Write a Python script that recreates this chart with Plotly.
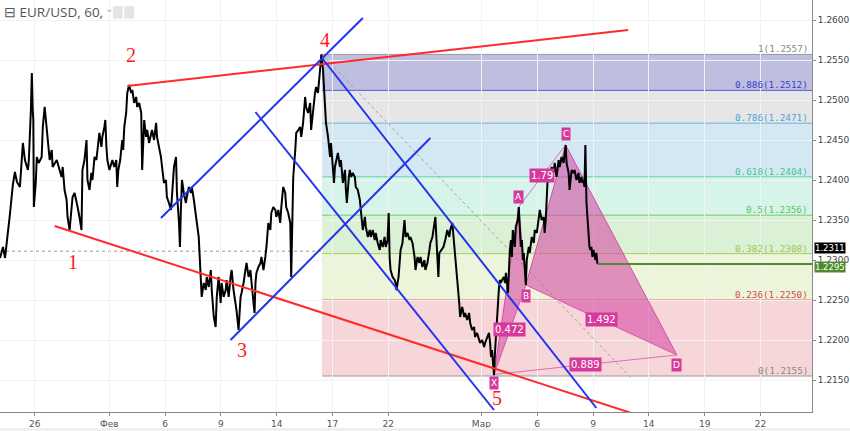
import plotly.graph_objects as go

# ---------------- data ----------------
tick_days = [0, 4, 7, 10, 13, 16, 19, 24, 27, 30, 33, 36, 39]
tick_text = ["26", "Фев", "6", "9", "14", "17", "22", "Мар", "6", "9", "14", "19", "22"]

price_ticks = [1.2150, 1.2200, 1.2250, 1.2300, 1.2350, 1.2400, 1.2450, 1.2500, 1.2550, 1.2600]

t_days = [-1.87, -1.71, -1.60, -1.44, -1.34, -1.18, -1.07, -0.96, -0.80, -0.64, -0.53, -0.37, -0.32, -0.21, -0.16, -0.11, -0.08, -0.05,
          0.05, 0.11, 0.21, 0.37, 0.43, 0.53, 0.64, 0.69, 0.80, 0.91, 0.96, 1.18, 1.34, 1.44, 1.50, 1.60, 1.71, 1.76, 1.87, 1.98,
          2.03, 2.14, 2.24, 2.30, 2.40, 2.51, 2.56, 2.67, 2.78, 2.80, 2.83, 2.94, 3.04, 3.10, 3.21, 3.31, 3.37, 3.47, 3.58, 3.63,
          3.74, 3.79, 3.85, 3.90, 4.01, 4.11, 4.17, 4.27, 4.38, 4.43, 4.49, 4.59, 4.65, 4.70, 4.75, 4.81, 4.91, 4.97, 5.07, 5.18,
          5.24, 5.34, 5.45, 5.50, 5.61, 5.72, 5.77, 5.88, 5.98, 6.04, 6.14, 6.25, 6.30, 6.41, 6.52, 6.57, 6.68, 6.78, 6.84, 6.94,
          7.05, 7.10, 7.21, 7.32, 7.37, 7.48, 7.59, 7.62, 7.64, 7.75, 7.80, 7.85, 7.91, 8.01, 8.12, 8.17, 8.28, 8.39, 8.44, 8.55,
          8.65, 8.71, 8.81, 8.92, 8.97, 9.08, 9.19, 9.24, 9.35, 9.46, 9.51, 9.62, 9.72, 9.78, 9.88, 9.99, 10.04, 10.15, 10.26,
          10.31, 10.42, 10.52, 10.58, 10.68, 10.79, 10.84, 10.95, 11.00, 11.06, 11.11, 11.22, 11.32, 11.38, 11.49, 11.59, 11.65,
          11.75, 11.81, 11.86, 11.91, 12.02, 12.13, 12.18, 12.29, 12.39, 12.45, 12.55, 12.66, 12.71, 12.82, 12.93, 12.98, 13.09,
          13.19, 13.25, 13.35, 13.46, 13.51, 13.62, 13.73, 13.78, 13.84, 13.89, 14.00, 14.05, 14.16, 14.26, 14.32, 14.42, 14.53,
          14.58, 14.69, 14.80, 14.85, 14.96, 15.06, 15.12, 15.22, 15.33, 15.40, 15.49, 15.54, 15.60, 15.65, 15.76, 15.87, 15.92,
          15.95, 16.03, 16.08, 16.13, 16.19, 16.29, 16.40, 16.45, 16.56, 16.67, 16.72, 16.77, 16.88, 16.93, 16.99, 17.09, 17.20,
          17.25, 17.36, 17.47, 17.52, 17.57, 17.63, 17.74, 17.79, 17.90, 18.00, 18.06, 18.16, 18.27, 18.32, 18.43, 18.54, 18.59,
          18.70, 18.80, 18.86, 18.96, 19.02, 19.07, 19.12, 19.23, 19.34, 19.39, 19.44, 19.55, 19.60, 19.66, 19.76, 19.87, 19.93,
          20.03, 20.14, 20.19, 20.30, 20.41, 20.46, 20.57, 20.67, 20.73, 20.83, 20.94, 20.99, 21.10, 21.21, 21.26, 21.37, 21.47,
          21.53, 21.58, 21.63, 21.69, 21.74, 21.85, 21.96, 22.06, 22.17, 22.28, 22.33, 22.44, 22.54, 22.60, 22.70, 22.81, 22.86,
          22.97, 23.08, 23.13, 23.24, 23.34, 23.40, 23.50, 23.61, 23.66, 23.77, 23.88, 23.93, 24.04, 24.15, 24.20, 24.31, 24.41,
          24.47, 24.52, 24.57, 24.63, 24.68, 24.73, 24.79, 24.89, 24.95, 25.00, 25.05, 25.11, 25.21, 25.27, 25.32, 25.43, 25.48,
          25.53, 25.59, 25.64, 25.69, 25.75, 25.80, 25.85, 25.96, 26.01, 26.07, 26.12, 26.18, 26.23, 26.28, 26.34, 26.39, 26.44,
          26.55, 26.60, 26.71, 26.82, 26.87, 26.98, 27.08, 27.14, 27.24, 27.35, 27.40, 27.46, 27.56, 27.62, 27.67, 27.78, 27.88,
          27.94, 28.04, 28.15, 28.21, 28.31, 28.42, 28.53, 28.58, 28.69, 28.74, 28.85, 28.95, 29.01, 29.11, 29.22, 29.27, 29.38,
          29.43, 29.49, 29.54, 29.59, 29.65, 29.70, 29.75, 29.81, 29.86, 29.91, 29.97, 30.02, 30.13, 30.18, 30.24]

close = [1.23025, 1.23163, 1.23025, 1.23413, 1.23563, 1.23938, 1.24100, 1.23975, 1.23913, 1.24463, 1.24250, 1.24125, 1.24250,
         1.24875, 1.25338, 1.24875, 1.24750, 1.23663,
         1.23963, 1.24288, 1.24213, 1.24288, 1.24663, 1.24913, 1.24625, 1.24500, 1.24250, 1.24375, 1.24163, 1.24250, 1.24125,
         1.24038, 1.24163, 1.23875, 1.23750, 1.23538, 1.23375, 1.23713,
         1.23788, 1.23838, 1.23750, 1.23663, 1.23538, 1.23375, 1.24125, 1.24250, 1.24500, 1.24163, 1.24000, 1.23875, 1.24088,
         1.24000, 1.24288, 1.24250, 1.24375, 1.24588, 1.24413, 1.24538,
         1.24663, 1.24750, 1.24413, 1.24250, 1.24125, 1.24213, 1.24250, 1.24163, 1.24250, 1.23913, 1.24125, 1.24250, 1.24413,
         1.24500, 1.24375, 1.24663, 1.24838, 1.25088, 1.25188, 1.25088,
         1.25125, 1.24963, 1.25038, 1.24913, 1.24963, 1.24838, 1.24125, 1.24750, 1.24538, 1.24625, 1.24463, 1.24588, 1.24625,
         1.24500, 1.24713, 1.24538, 1.24413, 1.24288, 1.24163, 1.23963,
         1.24000, 1.23788, 1.23713, 1.23625, 1.23788, 1.24163, 1.24288, 1.24038, 1.23838, 1.23463, 1.23163, 1.23625, 1.24000,
         1.23838, 1.23713, 1.23788, 1.23913, 1.23838, 1.23913, 1.23750,
         1.23538, 1.23463, 1.23288, 1.22788, 1.22538, 1.22713, 1.22625, 1.22788, 1.22663, 1.22875, 1.22625, 1.22288, 1.22163,
         1.22538, 1.22788, 1.22463, 1.22713, 1.22538, 1.22625,
         1.22750, 1.22538, 1.22788, 1.22875, 1.22625, 1.22463, 1.22375, 1.22125, 1.22413, 1.22538, 1.22588, 1.22713, 1.22875,
         1.22963, 1.22788, 1.22875, 1.22713,
         1.22463, 1.22338, 1.22713, 1.22838, 1.22913, 1.22963, 1.23038, 1.22875, 1.23038, 1.23163, 1.23463, 1.23375, 1.23588,
         1.23663, 1.23625, 1.23538, 1.23625,
         1.23463, 1.23663, 1.23913, 1.23838, 1.23663, 1.23588, 1.23463, 1.22788, 1.23288, 1.24038, 1.24375, 1.24588, 1.24625,
         1.24663, 1.24538, 1.24713, 1.25038,
         1.24913, 1.24838, 1.24963, 1.24625, 1.24913, 1.25088, 1.25163, 1.25088, 1.25375, 1.25570, 1.25375, 1.25125, 1.24875,
         1.24713, 1.24538, 1.24288, 1.24463,
         1.24375, 1.24038, 1.23963, 1.24163, 1.24250, 1.24338, 1.24163, 1.24250, 1.23963, 1.24125, 1.23875, 1.23713, 1.24038,
         1.24125, 1.24038, 1.24088, 1.24038,
         1.23913, 1.23875, 1.23750, 1.23625, 1.23463, 1.23375, 1.23538, 1.23413, 1.23288, 1.23375, 1.23288, 1.23375, 1.23250,
         1.23338, 1.23213, 1.23125, 1.23250,
         1.23163, 1.23288, 1.23163, 1.23250, 1.23588, 1.23038, 1.22875, 1.22788, 1.22750, 1.22713, 1.22625, 1.22788, 1.22963,
         1.23125, 1.23213, 1.23500, 1.23288,
         1.23338, 1.23250, 1.23288, 1.23213, 1.23038, 1.22875, 1.23038, 1.22963, 1.23038, 1.22913, 1.23000, 1.22875, 1.22963,
         1.23125, 1.23213, 1.23288, 1.23413,
         1.23538, 1.23288, 1.23038, 1.22788, 1.23088, 1.23125, 1.23163, 1.23250, 1.23375, 1.23288, 1.23375, 1.23463, 1.23213,
         1.23038, 1.22713, 1.22463, 1.22288,
         1.22413, 1.22288, 1.22338, 1.22250, 1.22338, 1.22213, 1.22125, 1.22163, 1.22038, 1.22088, 1.22000, 1.21963, 1.22000,
         1.21913, 1.21963, 1.22038, 1.22088,
         1.21963, 1.21788, 1.21875, 1.21713, 1.21560, 1.21838, 1.22088, 1.22338, 1.22663, 1.22750, 1.22713, 1.22750, 1.22788,
         1.22713, 1.22838, 1.22588, 1.22875,
         1.23125, 1.23250, 1.23038, 1.23375, 1.23288, 1.23163, 1.23413, 1.23500, 1.23663, 1.23338, 1.23163, 1.23250, 1.23000,
         1.23088, 1.22838, 1.22688, 1.23000,
         1.23163, 1.23088, 1.23288, 1.23213, 1.23375, 1.23338, 1.23500, 1.23625, 1.23500, 1.23538, 1.23338, 1.23500, 1.24000,
         1.24125, 1.24038, 1.24163, 1.24088,
         1.24213, 1.24038, 1.24250, 1.24163, 1.24288, 1.24213, 1.24438, 1.24213, 1.24088, 1.23875, 1.24125, 1.24088, 1.24125,
         1.24000, 1.24088, 1.23963, 1.24038,
         1.23963, 1.24000, 1.23913, 1.24438, 1.23713, 1.23500, 1.23375, 1.23163, 1.23125, 1.23163, 1.23038, 1.23125, 1.23000,
         1.23088, 1.22950]

last_price = 1.2311
current_level = 1.2295

fib_ratios = ["1", "0.886", "0.786", "0.618", "0.5", "0.382", "0.236", "0"]
fib_prices = [1.2557, 1.2512, 1.2471, 1.2404, 1.2356, 1.2308, 1.2250, 1.2155]
fib_start_day = 15.44
fib_fill = ["#bebee0", "#e6e6e6", "#d4e8f3", "#d6f4ea", "#daf1d6", "#ecf4da", "#f6d6d9"]
fib_line = ["#9a9a9a", "#5a5ad6", "#66b2de", "#62d0a8", "#6fcc6f", "#a9cc5c", "#e06a6a", "#9a9a9a"]
fib_text = ["#8a8a8a", "#3c3cd0", "#4aa4d8", "#3cc88e", "#58c658", "#9ec64e", "#d84a4a", "#8a8a8a"]

# wave trend lines (day, price endpoints)
red_upper = ([4.97, 31.89], [1.25175, 1.25875])
red_lower = ([1.07, 32.05], [1.23425, 1.21088])
blue_up_1 = ([6.78, 17.63], [1.23525, 1.26025])
blue_up_2 = ([10.52, 21.26], [1.22000, 1.24525])
blue_dn_1 = ([15.44, 30.18], [1.25525, 1.21150])
blue_dn_2 = ([11.86, 24.68], [1.24850, 1.21125])
fib_trend = ([15.44, 32.05], [1.2557, 1.21525])

wave_labels = ["1", "2", "3", "4", "5"]
wave_days = [2.03, 5.18, 11.11, 15.60, 24.84]
wave_prices = [1.22975, 1.25563, 1.21875, 1.25750, 1.21275]

pat_names = ["X", "A", "B", "C", "D"]
pat_days = [24.68, 26.01, 26.39, 28.53, 34.51]
pat_prices = [1.2157, 1.23663, 1.22688, 1.24438, 1.21813]
ratio_text = ["0.472", "1.79", "1.492", "0.889"]
ratio_pairs = [(0, 2), (1, 3), (2, 4), (0, 4)]

# ---------------- figure ----------------
fig = go.Figure()
shapes = []
annotations = []

x_min, x_max = -1.87, 41.77
y_min, y_max = 1.2110, 1.2625

# fib zones
for i in range(len(fib_fill)):
    shapes.append(dict(type="rect", xref="x", yref="y", x0=fib_start_day, x1=x_max + 1,
                       y0=fib_prices[i + 1], y1=fib_prices[i], fillcolor=fib_fill[i],
                       line=dict(width=0), layer="below"))
for i, p in enumerate(fib_prices):
    shapes.append(dict(type="line", xref="x", yref="y", x0=fib_start_day, x1=x_max + 1, y0=p, y1=p,
                       line=dict(color=fib_line[i], width=1), layer="below"))
    annotations.append(dict(x=0.998, xref="paper", y=p, yref="y", text=f"{fib_ratios[i]}({p:.4f})",
                            showarrow=False, xanchor="right", yanchor="bottom", yshift=-2,
                            font=dict(family="DejaVu Sans Mono", size=9.3, color=fib_text[i])))

# last price dotted line
shapes.append(dict(type="line", xref="paper", yref="y", x0=0, x1=1, y0=last_price, y1=last_price,
                   line=dict(color="#9a9a9a", width=1, dash="dot"), layer="below"))

# diagonal fib trend
fig.add_trace(go.Scatter(x=fib_trend[0], y=fib_trend[1], mode="lines",
                         line=dict(color="#a0a0a0", width=1, dash="dot"), hoverinfo="skip"))

# harmonic pattern fills
pink_fill = "rgba(214,62,160,0.55)"
pink_line = "#d24fa6"
for tri in [(0, 1, 2), (2, 3, 4)]:
    fig.add_trace(go.Scatter(x=[pat_days[k] for k in tri] + [pat_days[tri[0]]],
                             y=[pat_prices[k] for k in tri] + [pat_prices[tri[0]]],
                             mode="lines", fill="toself", fillcolor=pink_fill,
                             line=dict(color=pink_line, width=1), hoverinfo="skip"))
for a, b in ratio_pairs:
    fig.add_trace(go.Scatter(x=[pat_days[a], pat_days[b]], y=[pat_prices[a], pat_prices[b]], mode="lines",
                             line=dict(color="#dc6fb8", width=1), hoverinfo="skip"))

# price
fig.add_trace(go.Scatter(x=t_days, y=close, mode="lines", line=dict(color="#000000", width=2),
                         hoverinfo="skip"))
# current level green line
fig.add_trace(go.Scatter(x=[t_days[-1], x_max + 1], y=[current_level, current_level], mode="lines",
                         line=dict(color="#4f8a2e", width=2), hoverinfo="skip"))

# trend lines
for ln in [red_upper, red_lower]:
    fig.add_trace(go.Scatter(x=ln[0], y=ln[1], mode="lines", line=dict(color="#ff2a2a", width=2),
                             hoverinfo="skip"))
for ln in [blue_up_1, blue_up_2, blue_dn_1, blue_dn_2]:
    fig.add_trace(go.Scatter(x=ln[0], y=ln[1], mode="lines", line=dict(color="#2433f0", width=2),
                             hoverinfo="skip"))

# wave labels
for lab, d, p in zip(wave_labels, wave_days, wave_prices):
    annotations.append(dict(x=d, y=p, xref="x", yref="y", text=lab, showarrow=False,
                            font=dict(family="Liberation Serif", size=20, color="#ff1a1a")))

# pattern point labels
pt_shift = [-9, 10, -11, 11, -10]
for name, d, p, s in zip(pat_names, pat_days, pat_prices, pt_shift):
    annotations.append(dict(x=d, y=p, xref="x", yref="y", text=name, showarrow=False, yshift=s,
                            bgcolor="#d6399c", borderpad=1,
                            font=dict(family="DejaVu Sans", size=9, color="white")))
for txt, (a, b) in zip(ratio_text, ratio_pairs):
    annotations.append(dict(x=(pat_days[a] + pat_days[b]) / 2, y=(pat_prices[a] + pat_prices[b]) / 2,
                            xref="x", yref="y", text=txt, showarrow=False,
                            bgcolor="#d6399c", borderpad=1,
                            font=dict(family="DejaVu Sans", size=10, color="white")))

# right price tags
annotations.append(dict(x=1, xref="paper", y=last_price, yref="y", text="1.2311", showarrow=False,
                        xanchor="left", xshift=2, yshift=3, bgcolor="#000000", borderpad=0,
                        font=dict(family="DejaVu Sans", size=8.5, color="white")))
annotations.append(dict(x=1, xref="paper", y=current_level, yref="y", text="1.2295", showarrow=False,
                        xanchor="left", xshift=2, yshift=-3, bgcolor="#4f8a2e", borderpad=0,
                        font=dict(family="DejaVu Sans", size=8.5, color="white")))

# header
annotations.append(dict(x=0.002, y=0.997, xref="paper", yref="paper", text="⊟ EUR/USD, 60,",
                        showarrow=False, xanchor="left", yanchor="top",
                        font=dict(family="Open Sans", size=13.5, color="#555555")))
annotations.append(dict(x=0.127, y=0.997, xref="paper", yref="paper", text="⌄",
                        showarrow=False, xanchor="left", yanchor="top",
                        font=dict(family="DejaVu Sans", size=10, color="#aaaaaa")))
for xi in [0.139, 0.153]:
    shapes.append(dict(type="rect", xref="paper", yref="paper", x0=xi, x1=xi + 0.012, y0=0.955, y1=0.985,
                       fillcolor="#e4e4e4", line=dict(width=0)))

# bottom strip
shapes.append(dict(type="rect", xref="paper", yref="paper", x0=-0.01, x1=1.06, y0=-0.05, y1=-0.039,
                   fillcolor="#eef0f3", line=dict(width=0)))

fig.update_layout(
    width=850, height=431,
    margin=dict(l=0, r=33, t=0, b=19),
    paper_bgcolor="white", plot_bgcolor="white",
    showlegend=False,
    shapes=shapes, annotations=annotations,
    xaxis=dict(range=[x_min, x_max], tickvals=tick_days, ticktext=tick_text,
               showgrid=True, gridcolor="#f2f2f2", zeroline=False,
               showline=True, linecolor="#8a8a8a", ticks="outside", ticklen=3, tickcolor="#8a8a8a",
               tickfont=dict(family="DejaVu Sans", size=9, color="#555555")),
    yaxis=dict(range=[y_min, y_max], side="right", tickvals=price_ticks, tickformat=".4f",
               showgrid=True, gridcolor="#f2f2f2", zeroline=False,
               showline=True, linecolor="#8a8a8a", ticks="outside", ticklen=3, tickcolor="#8a8a8a",
               tickfont=dict(family="DejaVu Sans", size=9, color="#444444")),
)

fig.write_html("out.html", config={"displayModeBar": False},
               post_script="document.body.style.margin='0px';document.body.style.overflow='hidden';")
